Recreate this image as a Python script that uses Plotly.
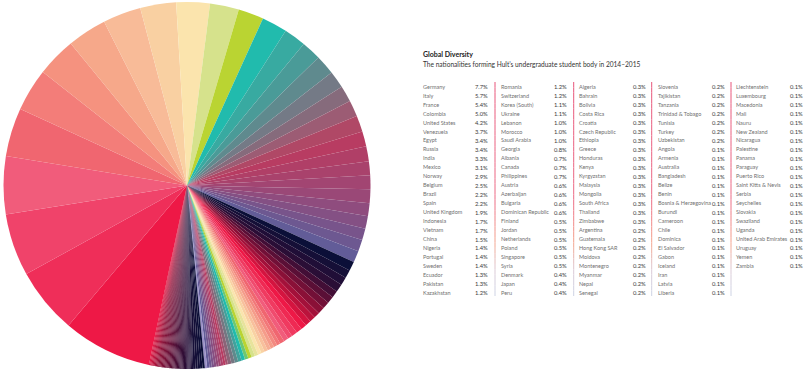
import plotly.graph_objects as go

countries = [
    "Germany", "Italy", "France", "Colombia", "United States", "Venezuela", "Egypt", "Russia",
    "India", "Mexico", "Norway", "Belgium", "Brazil", "Spain", "United Kingdom", "Indonesia",
    "Vietnam", "China", "Nigeria", "Portugal", "Sweden", "Ecuador", "Pakistan", "Kazakhstan",
    "Romania", "Switzerland", "Korea (South)", "Ukraine", "Lebanon", "Morocco", "Saudi Arabia", "Georgia",
    "Albania", "Canada", "Philippines", "Austria", "Azerbaijan", "Bulgaria", "Dominican Republic", "Finland",
    "Jordan", "Netherlands", "Poland", "Singapore", "Syria", "Denmark", "Japan", "Peru",
    "Algeria", "Bahrain", "Bolivia", "Costa Rica", "Croatia", "Czech Republic", "Ethiopia", "Greece",
    "Honduras", "Kenya", "Kyrgyzstan", "Malaysia", "Mongolia", "South Africa", "Thailand", "Zimbabwe",
    "Argentina", "Guatemala", "Hong Kong SAR", "Moldova", "Montenegro", "Myanmar", "Nepal", "Senegal",
    "Slovenia", "Tajikistan", "Tanzania", "Trinidad & Tobago", "Tunisia", "Turkey", "Uzbekistan", "Angola",
    "Armenia", "Australia", "Bangladesh", "Belize", "Benin", "Bosnia & Herzegovina", "Burundi", "Cameroon",
    "Chile", "Dominica", "El Salvador", "Gabon", "Iceland", "Iran", "Latvia", "Liberia",
    "Liechtenstein", "Luxembourg", "Macedonia", "Mali", "Nauru", "New Zealand", "Nicaragua", "Palestine",
    "Panama", "Paraguay", "Puerto Rico", "Saint Kitts & Nevis", "Serbia", "Seychelles", "Slovakia", "Swaziland",
    "Uganda", "United Arab Emirates", "Uruguay", "Yemen", "Zambia",
]

shares = [
    7.7, 5.7, 5.4, 5.0, 4.2, 3.7, 3.4, 3.4, 3.3, 3.1, 2.9, 2.5, 2.2, 2.2, 1.9, 1.7,
    1.7, 1.5, 1.4, 1.4, 1.4, 1.3, 1.3, 1.2,
    1.2, 1.2, 1.1, 1.1, 1.0, 1.0, 1.0, 0.8, 0.7, 0.7, 0.7, 0.6, 0.6, 0.6, 0.6, 0.5,
    0.5, 0.5, 0.5, 0.5, 0.5, 0.4, 0.4, 0.4,
    0.3, 0.3, 0.3, 0.3, 0.3, 0.3, 0.3, 0.3, 0.3, 0.3, 0.3, 0.3, 0.3, 0.3, 0.3, 0.3,
    0.2, 0.2, 0.2, 0.2, 0.2, 0.2, 0.2, 0.2,
    0.2, 0.2, 0.2, 0.2, 0.2, 0.2, 0.2, 0.1, 0.1, 0.1, 0.1, 0.1, 0.1, 0.1, 0.1, 0.1,
    0.1, 0.1, 0.1, 0.1, 0.1, 0.1, 0.1, 0.1,
    0.1, 0.1, 0.1, 0.1, 0.1, 0.1, 0.1, 0.1, 0.1, 0.1, 0.1, 0.1, 0.1, 0.1, 0.1, 0.1,
    0.1, 0.1, 0.1, 0.1, 0.1,
]

title_text = "Global Diversity"
subtitle_text = "The nationalities forming Hult’s undergraduate student body in 2014–2015"
value_labels = [f"{v:.1f}%" for v in shares]

# ---------- styling ----------
W, H = 805, 371
ROWS = 24

color_stops = [
    (0, "#EE1846"), (1, "#EF2E59"), (2, "#F0436A"), (3, "#F15C7B"), (4, "#F06670"),
    (5, "#F37D79"), (6, "#F5927F"), (7, "#F6A88A"), (8, "#F8BB98"), (9, "#F9D0A2"),
    (10, "#FBE4AD"), (11, "#D6E28C"), (12, "#BAD432"), (13, "#21BBAD"), (14, "#38AAA1"),
    (15, "#4A9B98"), (16, "#5F8A8E"), (17, "#747A86"), (18, "#866B7C"), (19, "#9C5C74"),
    (20, "#B04866"), (21, "#B83C62"), (25, "#9A4877"), (30, "#625C98"), (31, "#0B0F38"),
    (34, "#2A0E36"), (38, "#8A1037"), (41, "#D4143F"),
    (42, "#EE1846"), (46, "#F15C7B"), (47, "#F06670"), (54, "#FBE4AD"), (56, "#D6E28C"),
    (57, "#BAD432"), (59, "#21BBAD"), (61, "#5E8B8D"), (65, "#B83C62"), (72, "#625C98"),
    (73, "#9A90C8"), (74, "#0B0F38"), (90, "#3A0E36"), (108, "#8A1037"), (116, "#D8143F"),
]


def hex2rgb(h):
    h = h.lstrip("#")
    return tuple(int(h[i:i + 2], 16) for i in (0, 2, 4))


def lerp_color(stops, i):
    for (i0, c0), (i1, c1) in zip(stops, stops[1:]):
        if i0 <= i <= i1:
            t = 0 if i1 == i0 else (i - i0) / (i1 - i0)
            a, b = hex2rgb(c0), hex2rgb(c1)
            return "rgb(%d,%d,%d)" % tuple(round(a[k] + (b[k] - a[k]) * t) for k in range(3))
    return stops[-1][1]


slice_colors = [lerp_color(color_stops, i) for i in range(len(countries))]

fig = go.Figure()
fig.add_trace(go.Pie(
    labels=countries,
    values=shares,
    sort=False,
    direction="clockwise",
    rotation=192,
    marker=dict(colors=slice_colors, line=dict(width=0)),
    textinfo="none",
    hoverinfo="label+value",
    showlegend=False,
    domain=dict(x=[2 / W, 372 / W], y=[2 / H, 369 / H]),
))

FONT = "Lato, 'Open Sans', sans-serif"


def py(ypx):
    return 1 - ypx / H


annotations = [
    dict(text="<b>" + title_text + "</b>", x=421.5 / W, y=py(54), xref="paper", yref="paper",
         xanchor="left", yanchor="middle", showarrow=False, borderpad=0,
         font=dict(family=FONT, size=7, color="#222222")),
    dict(text=subtitle_text, x=421.5 / W, y=py(63.5), xref="paper", yref="paper",
         xanchor="left", yanchor="middle", showarrow=False, borderpad=0,
         font=dict(family=FONT, size=6.6, color="#333333")),
]

name_x = [421.7, 500.0, 578.3, 656.7, 735.0]
value_right = [489.0, 567.7, 646.7, 725.7, 804.0]
divider_x = [495.0, 573.7, 651.7, 731.0]
row_y0, row_dy = 86.7, 8.96

for i, (name, lab) in enumerate(zip(countries, value_labels)):
    c, r = divmod(i, ROWS)
    yy = py(row_y0 + r * row_dy)
    annotations.append(dict(text=name, x=name_x[c] / W, y=yy, xref="paper", yref="paper",
                            xanchor="left", yanchor="middle", showarrow=False, borderpad=0,
                            font=dict(family=FONT, size=5.5, color="#707070")))
    annotations.append(dict(text=lab, x=value_right[c] / W, y=yy, xref="paper", yref="paper",
                            xanchor="right", yanchor="middle", showarrow=False, borderpad=0,
                            font=dict(family=FONT, size=5.8, color="#3a3a3a")))

divider_stops = [(0, "#E8557A"), (55, "#EC6A85"), (75, "#F4A48C"), (88, "#DCCAD6"), (100, "#CCD4E6")]
shapes = []
y_top, y_bot, nseg = 82.0, 296.0, 40
for dx in divider_x:
    for s in range(nseg):
        ya = y_top + (y_bot - y_top) * s / nseg
        yb = y_top + (y_bot - y_top) * (s + 1) / nseg
        col = lerp_color(divider_stops, 100 * (s + 0.5) / nseg)
        shapes.append(dict(type="line", xref="paper", yref="paper",
                           x0=dx / W, x1=dx / W, y0=py(ya), y1=py(yb),
                           line=dict(color=col, width=1)))

fig.update_layout(
    width=W, height=H,
    margin=dict(l=0, r=0, t=0, b=0),
    paper_bgcolor="white", plot_bgcolor="white",
    annotations=annotations,
    shapes=shapes,
)

fig.write_html(
    "out.html",
    config={"displayModeBar": False},
    post_script="document.body.style.margin='0';document.body.style.padding='0';"
                "document.body.style.overflow='hidden';",
)
